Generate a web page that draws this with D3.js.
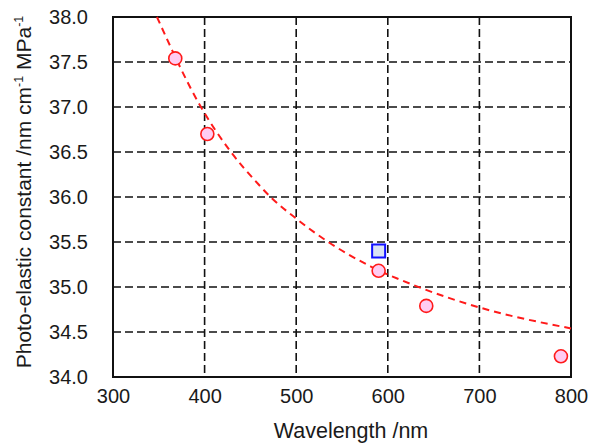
<!DOCTYPE html>
<html>
<head>
<meta charset="utf-8">
<script src="https://cdn.jsdelivr.net/npm/d3@7"></script>
<style>
  body { margin: 0; background: #fff; }
  text { font-family: "Liberation Sans", Arial, sans-serif; fill: #1a1a1a; }
</style>
</head>
<body>
<svg id="chart" width="592" height="443"></svg>
<script>
// measured points (pink circles)
var wavelengths = [368, 403, 590, 642, 789];
var constants = [37.54, 36.70, 35.18, 34.79, 34.23];

// single blue square point
var squareWavelength = [590];
var squareConstant = [35.40];

// dashed fit curve
var fitWavelengths = [348, 396, 428, 458, 472, 500, 535, 581, 631, 701, 800];
var fitConstants = [38.00, 37.00, 36.51, 36.15, 36.00, 35.76, 35.50, 35.23, 35.01, 34.77, 34.54];

var xTicks = [300, 400, 500, 600, 700, 800];
var yTicks = [34.0, 34.5, 35.0, 35.5, 36.0, 36.5, 37.0, 37.5, 38.0];

var margin = {left: 113, top: 17, right: 21, bottom: 66};
var width = 592 - margin.left - margin.right;
var height = 443 - margin.top - margin.bottom;

var svg = d3.select("#chart");
var g = svg.append("g")
    .attr("transform", "translate(" + margin.left + "," + margin.top + ")");

var x = d3.scaleLinear().domain([300, 800]).range([0, width]);
var y = d3.scaleLinear().domain([34, 38]).range([height, 0]);

// dashed grid
g.selectAll(".vgrid")
    .data(xTicks.slice(1, -1))
    .enter()
    .append("line")
    .attr("x1", function(d) { return x(d); })
    .attr("x2", function(d) { return x(d); })
    .attr("y1", 0)
    .attr("y2", height)
    .style("stroke", "#111")
    .style("stroke-width", 1.6)
    .style("stroke-dasharray", "8,4");

g.selectAll(".hgrid")
    .data(yTicks.slice(1, -1))
    .enter()
    .append("line")
    .attr("x1", 0)
    .attr("x2", width)
    .attr("y1", function(d) { return y(d); })
    .attr("y2", function(d) { return y(d); })
    .style("stroke", "#111")
    .style("stroke-width", 1.6)
    .style("stroke-dasharray", "8,4");

// axes, labels only
var xAxis = g.append("g")
    .attr("transform", "translate(0," + height + ")")
    .call(d3.axisBottom(x).tickValues(xTicks).tickSize(0).tickPadding(12));
xAxis.select(".domain").remove();
xAxis.selectAll("text").style("font-size", "20px").attr("fill", "#1a1a1a");

var yAxis = g.append("g")
    .call(d3.axisLeft(y).tickValues(yTicks).tickSize(0).tickPadding(25)
        .tickFormat(d3.format(".1f")));
yAxis.select(".domain").remove();
yAxis.selectAll("text").style("font-size", "20px").attr("fill", "#1a1a1a");

// plot frame
g.append("rect")
    .attr("x", 0)
    .attr("y", 0)
    .attr("width", width)
    .attr("height", height)
    .style("fill", "none")
    .style("stroke", "#111")
    .style("stroke-width", 2);

// fit curve
var fitData = fitWavelengths.map(function(d, i) { return [d, fitConstants[i]]; });
var line = d3.line()
    .x(function(d) { return x(d[0]); })
    .y(function(d) { return y(d[1]); })
    .curve(d3.curveMonotoneX);

g.append("path")
    .datum(fitData)
    .attr("d", line)
    .style("fill", "none")
    .style("stroke", "#ff1a1a")
    .style("stroke-width", 2)
    .style("stroke-dasharray", "7,5");

// circles
g.selectAll(".pt")
    .data(wavelengths)
    .enter()
    .append("circle")
    .attr("cx", function(d) { return x(d); })
    .attr("cy", function(d, i) { return y(constants[i]); })
    .attr("r", 6.5)
    .style("fill", "#ffccf2")
    .style("stroke", "#ff1a1a")
    .style("stroke-width", 1.6);

// square
g.selectAll(".sq")
    .data(squareWavelength)
    .enter()
    .append("rect")
    .attr("x", function(d) { return x(d) - 6.5; })
    .attr("y", function(d, i) { return y(squareConstant[i]) - 6.5; })
    .attr("width", 13)
    .attr("height", 13)
    .style("fill", "#dae2f4")
    .style("stroke", "#1010ff")
    .style("stroke-width", 2);

// axis titles
svg.append("text")
    .attr("x", margin.left + width / 2 + 9)
    .attr("y", 438)
    .attr("text-anchor", "middle")
    .style("font-size", "21.5px")
    .text("Wavelength /nm");

var yTitle = svg.append("text")
    .attr("transform", "translate(31,192) rotate(-90)")
    .attr("text-anchor", "middle")
    .style("font-size", "21px");
yTitle.append("tspan").text("Photo-elastic constant /nm cm");
yTitle.append("tspan").attr("dy", -8).style("font-size", "12.5px").text("-1");
yTitle.append("tspan").attr("dy", 8).text(" MPa");
yTitle.append("tspan").attr("dy", -8).style("font-size", "12.5px").text("-1");
</script>
</body>
</html>
